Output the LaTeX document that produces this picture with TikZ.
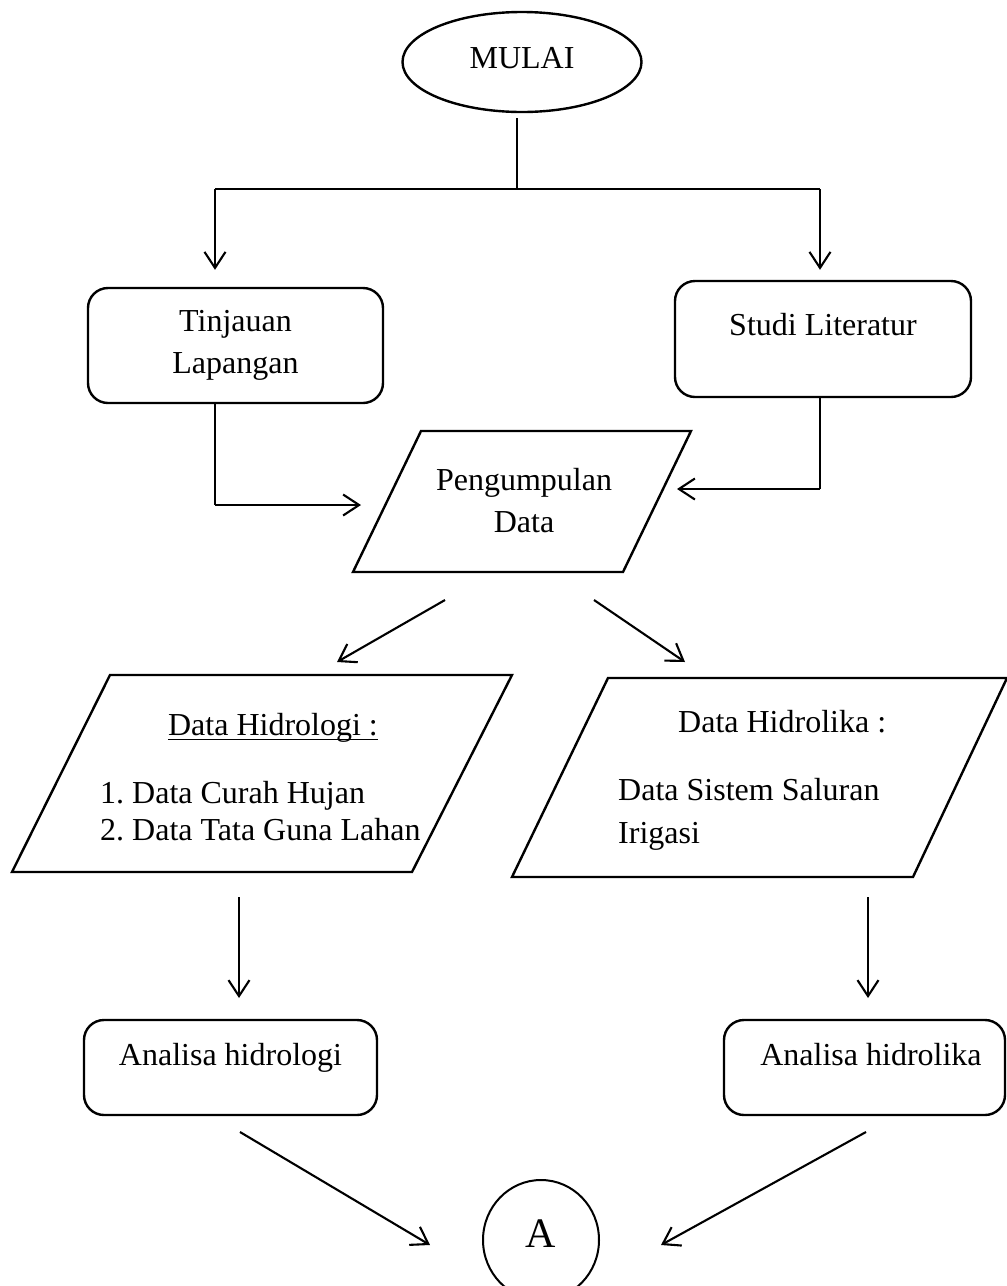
\documentclass[tikz,border=0pt]{standalone}
\usepackage{fontspec}
\setmainfont{Liberation Serif}
\usetikzlibrary{shapes.geometric,arrows.meta,calc}
\tikzset{
  shp/.style={draw, line width=2.4},
  box/.style={shp, rectangle, rounded corners=20, inner sep=0},
  thinln/.style={line width=1.2},
  arr/.style={line width=2.1, -{Straight Barb[length=16pt,width=21pt]}},
  txt/.style={inner sep=0},
}
\begin{document}
\begin{tikzpicture}[x=1pt,y=-1pt,font=\fontsize{32}{42}\selectfont]
\useasboundingbox (0,0) rectangle (1007,1286);

% ---------- nodes ----------
\node[shp, ellipse, minimum width=239, minimum height=100, inner sep=0,
      text height=22, text depth=10] (mulai) at (522,62) {MULAI};

\node[box, minimum width=295, minimum height=115, align=center]
      (tinj) at (235.5,345.5) {Tinjauan\\Lapangan};
\node[box, minimum width=296, text height=54, text depth=62]
      (studi) at (823,339) {Studi Literatur};

% Pengumpulan Data (parallelogram)
\coordinate (pg1) at (421,431);
\coordinate (pg2) at (691,431);
\coordinate (pg3) at (623,572);
\coordinate (pg4) at (353,572);
\draw[shp] (pg1) -- (pg2) -- (pg3) -- (pg4) -- cycle;
\node[txt, align=center] (peng) at (524,501) {Pengumpulan\\Data};

% Data Hidrologi (parallelogram)
\coordinate (hg1c) at (110,675);
\coordinate (hg2c) at (512,675);
\coordinate (hg3c) at (412,872);
\coordinate (hg4c) at (12,872);
\draw[shp] (hg1c) -- (hg2c) -- (hg3c) -- (hg4c) -- cycle;
\node[txt, anchor=base] (hg1) at (273,735) {Data Hidrologi :};
\draw[line width=1.4] ([yshift=-4.5]hg1.base west) -- ([yshift=-4.5]hg1.base east);
\node[txt, anchor=base west] (hg2) at (100,803) {1.\ Data Curah Hujan};
\node[txt, anchor=base west] (hg3) at (100,840) {2.\ Data Tata Guna Lahan};

% Data Hidrolika (parallelogram)
\coordinate (hk1c) at (608,678);
\coordinate (hk2c) at (1007,678);
\coordinate (hk3c) at (913,877);
\coordinate (hk4c) at (512,877);
\draw[shp] (hk1c) -- (hk2c) -- (hk3c) -- (hk4c) -- cycle;
\node[txt, anchor=base west] (hk1) at (678,732) {Data Hidrolika :};
\node[txt, anchor=base west] (hk2) at (618,800) {Data Sistem Saluran};
\node[txt, anchor=base west] (hk3) at (618,843) {Irigasi};

\node[box, minimum width=293, text height=45, text depth=50]
      (ahg) at (230.5,1067.5) {Analisa hidrologi};
\node[box, minimum width=281, minimum height=95] (ahk) at (864.5,1067.5) {};
\node[txt, anchor=base] (ahkt) at (871,1065) {Analisa hidrolika};

\node[shp, line width=2, ellipse, minimum width=116, minimum height=120, inner sep=0,
      font=\fontsize{42}{50}\selectfont, text height=30, text depth=16]
      (A) at (541,1240) {A};

% ---------- coordinates ----------
\coordinate (jm) at (517,189);
\coordinate (jl) at (215,189);
\coordinate (jr) at (820,189);
\coordinate (tb) at (215,505);
\coordinate (tbe) at (361,505);
\coordinate (sb) at (820,489);
\coordinate (sbe) at (677,489);
\coordinate (p1s) at (445,600);
\coordinate (p1e) at (337,662);
\coordinate (p2s) at (594,600);
\coordinate (p2e) at (685,662);
\coordinate (v1s) at (239,897);
\coordinate (v1e) at (239,998);
\coordinate (v2s) at (868,897);
\coordinate (v2e) at (868,998);
\coordinate (b1s) at (240,1132);
\coordinate (b1e) at (430,1245);
\coordinate (b2s) at (866,1132);
\coordinate (b2e) at (661,1245);

% ---------- connectors ----------
\draw[thinln] ([yshift=-5]mulai.south -| jm) -- (jm);
\draw[thinln] (jl) -- (jr);
\draw[arr, shorten >=17] (jl) -- (jl |- tinj.north);
\draw[arr, shorten >=10] (jr) -- (jr |- studi.north);

\draw[thinln] (tinj.south -| tb) -- (tb);
\draw[arr] (tb) -- (tbe);
\draw[thinln] (studi.south -| sb) -- (sb);
\draw[arr] (sb) -- (sbe);

\draw[arr] (p1s) -- (p1e);
\draw[arr] (p2s) -- (p2e);
\draw[arr] (v1s) -- (v1e);
\draw[arr] (v2s) -- (v2e);
\draw[arr] (b1s) -- (b1e);
\draw[arr] (b2s) -- (b2e);
\end{tikzpicture}
\end{document}
